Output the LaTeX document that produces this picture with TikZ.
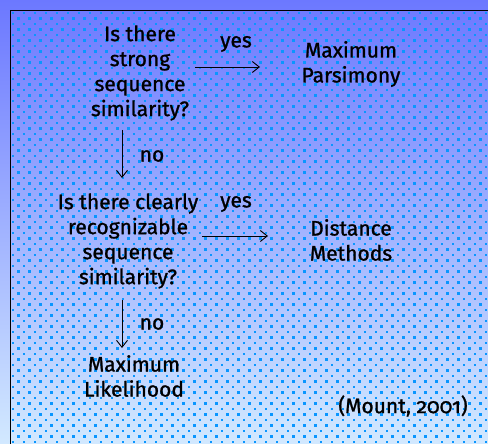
\documentclass[tikz,border=0pt]{standalone}
\usepackage{fontspec}
\setmainfont{Fira Sans}[Numbers=OldStyle, FakeBold=1.1, AutoFakeBold=1.1]
\usetikzlibrary{arrows.meta}
\definecolor{skytop}{RGB}{108,120,255}
\definecolor{skybottom}{RGB}{210,233,255}
\definecolor{dotblue}{RGB}{10,150,255}
\tikzset{
  label/.style={align=center, inner sep=0pt, font=\fontsize{21}{25}\selectfont},
  flow/.style={line width=0.9pt, -{Straight Barb[length=7pt,width=11pt,line width=0.9pt]}},
}
\begin{document}
\begin{tikzpicture}[x=1pt,y=-1pt]
  % background gradient and frame
  \shade[top color=skytop, bottom color=skybottom] (0,0) rectangle (488,444);
  \useasboundingbox (0,0) rectangle (488,444);
  % staggered dot screen
  \foreach \r in {0,...,78}{
    \pgfmathsetmacro{\yy}{13+5.5*\r}
    \pgfmathsetmacro{\xo}{mod(\r,2)*5.5}
    \foreach \c in {0,...,43}{
      \fill[dotblue] ({13+\xo+11*\c-1.2},{\yy-1.2}) rectangle ++(2.4,2.4);
    }
  }
  \draw[line width=1.8pt] (10.5,444) -- (10.5,10.5) -- (488,10.5);

  % nodes
  \node[label] (q1) at (140,73) {Is there\\strong\\sequence\\similarity?};
  \node[label] (mp) at (351,64) {Maximum\\Parsimony};
  \node[label] (q2) at (128,241) {Is there clearly\\recognizable\\sequence\\similarity?};
  \node[label] (dm) at (351,240) {Distance\\Methods};
  \node[label] (ml) at (134,376) {Maximum\\Likelihood};
  \node[label] (cite) at (403,406) {(Mount, 2001)};

  % connectors
  \coordinate (a1s) at (195,67);  \coordinate (a1e) at (260,67);
  \coordinate (a2s) at (122,130); \coordinate (a2e) at (122,178);
  \coordinate (a3s) at (202,236); \coordinate (a3e) at (268,236);
  \coordinate (a4s) at (122,300); \coordinate (a4e) at (122,348);
  \draw[flow] (a1s) -- (a1e);
  \draw[flow] (a2s) -- (a2e);
  \draw[flow] (a3s) -- (a3e);
  \draw[flow] (a4s) -- (a4e);

  % edge labels
  \node[label] (y1) at (236,44) {yes};
  \node[label] (n1) at (152,156) {no};
  \node[label] (y2) at (236,204) {yes};
  \node[label] (n2) at (152,324) {no};
\end{tikzpicture}
\end{document}
